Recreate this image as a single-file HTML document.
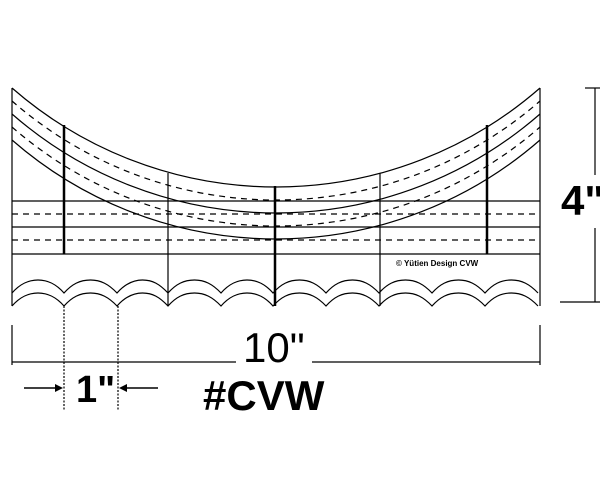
<!DOCTYPE html>
<html><head><style>body{margin:0;background:#fff}svg{display:block}</style></head><body>
<svg width="600" height="500" viewBox="0 0 600 500" xmlns="http://www.w3.org/2000/svg" font-family="Liberation Sans, sans-serif">
<g fill="none" stroke="#000" stroke-width="1.2">
<path id="arc" d="M12,88 A401.5,401.5 0 0 0 540,88"/>
<use href="#arc" y="13" stroke-dasharray="6,5"/>
<use href="#arc" y="26"/>
<use href="#arc" y="39" stroke-dasharray="6,5"/>
<use href="#arc" y="52"/>
<line x1="12" y1="201" x2="540" y2="201"/>
<line x1="12" y1="214" x2="540" y2="214" stroke-dasharray="6,5"/>
<line x1="12" y1="227" x2="540" y2="227"/>
<line x1="12" y1="240" x2="540" y2="240" stroke-dasharray="6,5"/>
<line x1="12" y1="254" x2="540" y2="254"/>
<line x1="12" y1="88" x2="12" y2="306"/>
<line x1="540" y1="88" x2="540" y2="306"/>
<line x1="168" y1="173" x2="168" y2="306"/>
<line x1="380" y1="173" x2="380" y2="306"/>
<line x1="64" y1="125" x2="64" y2="254" stroke-width="2.5"/>
<line x1="487" y1="125" x2="487" y2="254" stroke-width="2.5"/>
<line x1="275" y1="186" x2="275" y2="306" stroke-width="2.5"/>
<path id="wave" d="M12,293 c8,-9 16,-13 26,-13 c10,0 18,4 26,13 c8,-9 16,-13 26.5,-13 c10,0 18,4 26.5,13 c8,-9 16,-13 25.5,-13 c10,0 17,4 25.5,13 c8,-9 16,-13 26.5,-13 c10,0 18,4 26.5,13 c8,-9 16,-13 26,-13 c10,0 18,4 26,13 c8,-9 16,-13 26.5,-13 c10,0 18,4 26.5,13 c8,-9 16,-13 26.5,-13 c10,0 18,4 26.5,13 c8,-9 16,-13 26.5,-13 c10,0 18,4 26.5,13 c8,-9 16,-13 26.5,-13 c10,0 18,4 26.5,13 c8,-9 16,-13 26.5,-13 c10,0 18,4 26.5,13"/>
<use href="#wave" y="13"/>
<line x1="64" y1="306" x2="64" y2="411" stroke-dasharray="2,1.5"/>
<line x1="118" y1="306" x2="118" y2="411" stroke-dasharray="2,1.5"/>
<line x1="12" y1="325" x2="12" y2="365"/>
<line x1="12" y1="362" x2="236" y2="362"/>
<line x1="312" y1="362" x2="540" y2="362"/>
<line x1="540" y1="325" x2="540" y2="365"/>
<line x1="595" y1="88" x2="595" y2="175"/>
<line x1="595" y1="228" x2="595" y2="302"/>
<line x1="560" y1="302" x2="600" y2="302"/>
<line x1="585" y1="88" x2="600" y2="88"/>
<line x1="24" y1="388" x2="58" y2="388" stroke-width="1.6"/>
<line x1="124" y1="388" x2="158" y2="388" stroke-width="1.6"/>
</g>
<polygon points="63,388 55,384 55,392" fill="#000"/>
<polygon points="119,388 127,384 127,392" fill="#000"/>
<text x="396" y="266" font-size="8" font-weight="bold">© Yütien Design  CVW</text>
<text x="243" y="362" font-size="42">10"</text>
<text x="561" y="215" font-size="42" font-weight="bold">4"</text>
<text x="76" y="402" font-size="38" font-weight="bold">1"</text>
<text x="203" y="410" font-size="42" font-weight="bold">#CVW</text>
</svg>
</body></html>
